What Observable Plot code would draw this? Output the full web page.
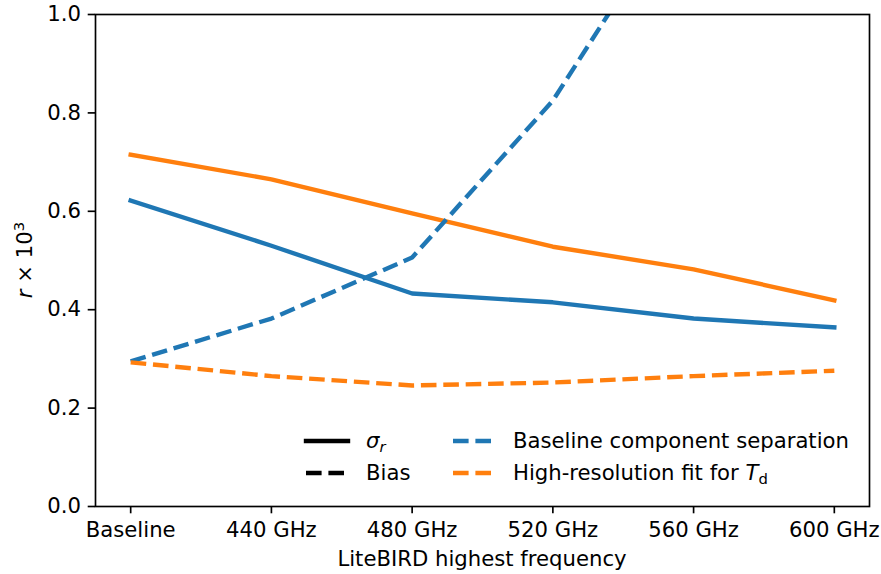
<!DOCTYPE html>
<html><head><meta charset="utf-8">
<script src="https://cdn.jsdelivr.net/npm/d3@7"></script>
<script src="https://cdn.jsdelivr.net/npm/@observablehq/plot@0.6"></script>
<style>
body{margin:0;background:#fff;}
#chart svg{display:block;}
</style></head><body><div id="chart"></div>
<script>
const categories = ["Baseline", "440 GHz", "480 GHz", "520 GHz", "560 GHz", "600 GHz"];
const sigmaBaseline = [0.622, 0.530, 0.433, 0.415, 0.382, 0.364];
const sigmaHighRes  = [0.715, 0.665, 0.596, 0.528, 0.482, 0.419];
const biasBaseline  = [0.295, 0.382, 0.506, 0.825, 1.27, 1.75];
const biasHighRes   = [0.293, 0.265, 0.246, 0.252, 0.265, 0.276];
const yTicks = [0, 0.2, 0.4, 0.6, 0.8, 1.0];

const W = 881, H = 574, ml = 95, mr = 12, mt = 14, mb = 68;
const blue = "#1f77b4", orange = "#ff7f0e";
const lw = 4.4, dash = "15.6,6.8", fs = 21.2;
const rows = vals => vals.map((v, i) => ({i, v}));

const solid = c => ({x: "i", y: "v", stroke: c, strokeWidth: lw, strokeLinecap: "square", strokeLinejoin: "round", clip: true});
const dashed = c => ({x: "i", y: "v", stroke: c, strokeWidth: lw, strokeDasharray: dash, strokeLinecap: "butt", strokeLinejoin: "round", clip: true});

const svg = Plot.plot({
  width: W, height: H, marginLeft: ml, marginRight: mr, marginTop: mt, marginBottom: mb,
  style: {fontFamily: "'DejaVu Sans', sans-serif", fontSize: fs + "px", color: "black", background: "white"},
  x: {type: "linear", domain: [-0.25, 5.25]},
  y: {domain: [0, 1]},
  marks: [
    Plot.line(rows(sigmaBaseline), solid(blue)),
    Plot.line(rows(sigmaHighRes), solid(orange)),
    Plot.line(rows(biasBaseline), dashed(blue)),
    Plot.line(rows(biasHighRes), dashed(orange)),
    Plot.frame({stroke: "black", strokeWidth: 1.67}),
    Plot.axisX(d3.range(categories.length), {tickFormat: i => categories[i], tickSize: 7.3, tickPadding: 8.5, label: null, strokeWidth: 1.67}),
    Plot.axisY(yTicks, {tickFormat: d3.format(".1f"), tickSize: 7.3, tickPadding: 7.3, label: null, strokeWidth: 1.67})
  ]
});
document.getElementById("chart").appendChild(svg);

const s = d3.select(svg);
const fam = "'DejaVu Sans', sans-serif";

// x axis label
s.append("text").attr("x", (ml + W - mr) / 2).attr("y", 566)
  .attr("text-anchor", "middle").attr("font-family", fam).attr("font-size", fs).attr("fill", "black")
  .text("LiteBIRD highest frequency");

// y axis label
const yl = s.append("text").attr("transform", `translate(32,${(mt + H - mb) / 2}) rotate(-90)`)
  .attr("text-anchor", "middle").attr("font-family", fam).attr("font-size", fs).attr("fill", "black");
yl.append("tspan").attr("font-style", "italic").text("r");
yl.append("tspan").text(" × 10");
yl.append("tspan").attr("font-size", fs * 0.7).attr("dy", -8).text("3");

// legend
const legend = s.append("g").attr("font-family", fam).attr("font-size", fs).attr("fill", "black").attr("text-anchor", "start");
function handle(x0, y, color, isDashed) {
  legend.append("line").attr("x1", x0).attr("x2", x0 + 42).attr("y1", y).attr("y2", y)
    .attr("stroke", color).attr("stroke-width", lw)
    .attr("stroke-dasharray", isDashed ? dash : null)
    .attr("stroke-linecap", isDashed ? "butt" : "square");
}
const r1 = 441, r2 = 473;
handle(306, r1, "black", false);
handle(306, r2, "black", true);
handle(453, r1, blue, true);
handle(453, r2, orange, true);

const t1 = legend.append("text").attr("x", 366).attr("y", r1 + 7).attr("text-anchor", "start");
t1.append("tspan").attr("font-style", "italic").text("σ");
t1.append("tspan").attr("font-style", "italic").attr("font-size", fs * 0.7).attr("dy", 4).text("r");
legend.append("text").attr("x", 366).attr("y", r2 + 7).attr("text-anchor", "start").text("Bias");
legend.append("text").attr("x", 513).attr("y", r1 + 7).attr("text-anchor", "start").text("Baseline component separation");
const t4 = legend.append("text").attr("x", 513).attr("y", r2 + 7).attr("text-anchor", "start");
t4.append("tspan").text("High-resolution fit for ");
t4.append("tspan").attr("font-style", "italic").text("T");
t4.append("tspan").attr("font-size", fs * 0.7).attr("dy", 4).text("d");
</script></body></html>
